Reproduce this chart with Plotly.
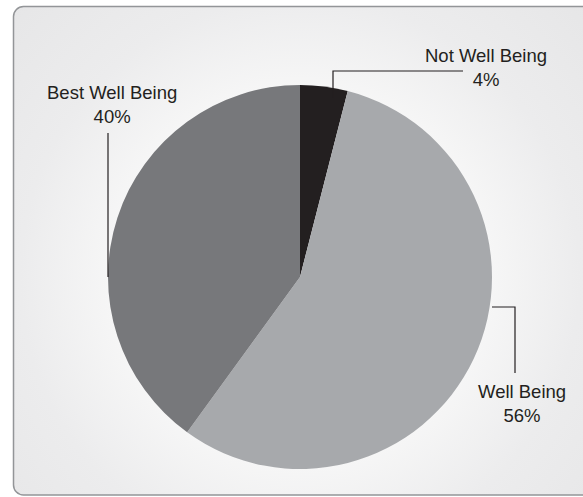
import base64
import plotly.graph_objects as go

# ---- data ----
labels = ["Not Well Being", "Well Being", "Best Well Being"]
values = [4, 56, 40]
colors = ["#231f20", "#a7a9ac", "#77787b"]

W, H = 583, 497

def px(x):
    return x / W

def py(y):
    return 1 - y / H

# background: rounded frame with radial gradient
svg = f'''<svg xmlns="http://www.w3.org/2000/svg" width="{W}" height="{H}" viewBox="0 0 {W} {H}">
<defs><radialGradient id="g" gradientUnits="userSpaceOnUse" cx="300" cy="277" r="400">
<stop offset="0" stop-color="#ffffff"/>
<stop offset="0.45" stop-color="#f7f7f7"/>
<stop offset="0.7" stop-color="#ececed"/>
<stop offset="1" stop-color="#e6e6e7"/>
</radialGradient></defs>
<rect x="0" y="0" width="{W}" height="{H}" fill="#ffffff"/>
<rect x="13.5" y="6.5" width="660" height="488.5" rx="10" ry="10" fill="url(#g)" stroke="#939598" stroke-width="1.5"/>
</svg>'''
src = "data:image/svg+xml;base64," + base64.b64encode(svg.encode()).decode()

fig = go.Figure(go.Pie(
    labels=labels, values=values, sort=False, direction="clockwise", rotation=0,
    marker=dict(colors=colors, line=dict(width=0)),
    textinfo="none", hoverinfo="label+percent", showlegend=False,
    domain=dict(x=[px(108), px(492)], y=[py(469), py(85)]),
))

# label layout (pixel positions of label centres and leader-line paths)
label_pos = {
    "Not Well Being": (486, 67),
    "Well Being": (522, 403),
    "Best Well Being": (112, 105),
}
leaders = {
    "Not Well Being": [(333, 98), (333, 71), (463, 71)],
    "Well Being": [(492, 307), (515, 307), (515, 373)],
    "Best Well Being": [(108, 277), (108, 133)],
}

total = sum(values)
annotations = []
shapes = []
for lab, val in zip(labels, values):
    x, y = label_pos[lab]
    annotations.append(dict(
        x=px(x), y=py(y), xref="paper", yref="paper",
        text=f"{lab}<br>{round(100 * val / total)}%",
        showarrow=False, xanchor="center", yanchor="middle", align="center",
        font=dict(family="Liberation Sans, Arial, sans-serif", size=18.5, color="#231f20"),
    ))
    pts = leaders[lab]
    path = "M " + " L ".join(f"{px(a)},{py(b)}" for a, b in pts)
    shapes.append(dict(type="path", xref="paper", yref="paper", path=path,
                       line=dict(color="#231f20", width=1.2)))

fig.update_layout(
    width=W, height=H, margin=dict(l=0, r=0, t=0, b=0),
    paper_bgcolor="white", plot_bgcolor="white",
    images=[dict(source=src, xref="paper", yref="paper", x=0, y=1, sizex=1, sizey=1,
                 xanchor="left", yanchor="top", sizing="stretch", layer="below")],
    annotations=annotations, shapes=shapes,
)

fig.write_html(
    "out.html",
    config={"displayModeBar": False},
    post_script="document.body.style.margin='0';document.body.style.overflow='hidden';",
)
